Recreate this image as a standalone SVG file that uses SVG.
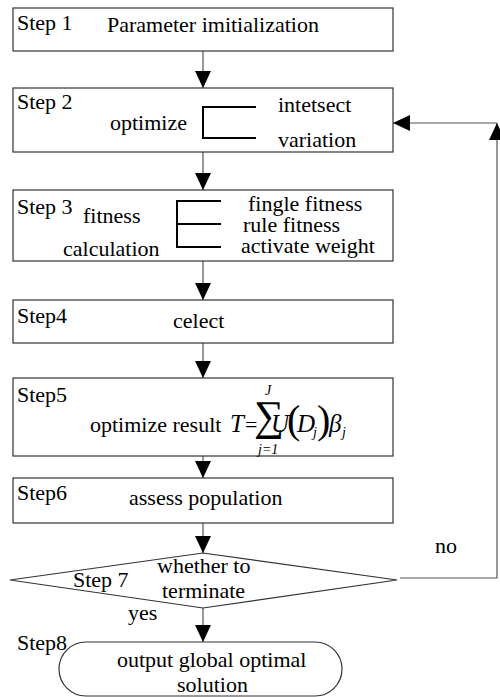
<svg xmlns="http://www.w3.org/2000/svg" width="500" height="697" viewBox="0 0 500 697">
<style>
text{font-family:"Liberation Serif","Times New Roman",serif;font-size:22px;fill:#000}
.box{fill:#fff;stroke:#333;stroke-width:1.2}
.br{fill:none;stroke:#000;stroke-width:2}
.ln{fill:none;stroke:#555;stroke-width:1.2}
.it{font-style:italic;font-size:25px}
.sm{font-size:14px;font-style:italic}
.big{font-size:42px}
.par{font-size:40px}
</style>
<defs>
<marker id="ah" viewBox="0 0 17 16" refX="17" refY="8" markerWidth="17" markerHeight="16" orient="auto" markerUnits="userSpaceOnUse">
<path d="M0,0 L17,8 L0,16 Z" fill="#000"/>
</marker>
</defs>
<rect width="500" height="697" fill="#fff"/>

<g id="connectors">
<line class="ln" x1="203" y1="51" x2="203" y2="88" marker-end="url(#ah)"/>
<line class="ln" x1="203" y1="152" x2="203" y2="190" marker-end="url(#ah)"/>
<line class="ln" x1="203" y1="261" x2="203" y2="300" marker-end="url(#ah)"/>
<line class="ln" x1="203" y1="343" x2="203" y2="378" marker-end="url(#ah)"/>
<line class="ln" x1="203" y1="456" x2="203" y2="478" marker-end="url(#ah)"/>
<line class="ln" x1="203" y1="523" x2="203" y2="553" marker-end="url(#ah)"/>
<line class="ln" x1="203" y1="608" x2="203" y2="642" marker-end="url(#ah)"/>
<polyline class="ln" points="400,578 497,578 497,123" marker-end="url(#ah)"/>
<line class="ln" x1="497" y1="123" x2="393" y2="123" marker-end="url(#ah)"/>
<text x="435" y="553">no</text>
<text x="128" y="620">yes</text>
</g>

<g id="step1">
<rect class="box" x="13" y="8" width="380" height="43"/>
<text x="17" y="30">Step 1</text>
<text x="107" y="32">Parameter imitialization</text>
</g>

<g id="step2">
<rect class="box" x="13" y="88" width="380" height="64"/>
<text x="17" y="109">Step 2</text>
<text x="110" y="130">optimize</text>
<polyline class="br" points="256,107 203,107 203,138 256,138"/>
<text x="278" y="112">intetsect</text>
<text x="278" y="147">variation</text>
</g>

<g id="step3">
<rect class="box" x="13" y="190" width="380" height="71"/>
<text x="17" y="214">Step 3</text>
<text x="83" y="223">fitness</text>
<text x="63" y="256">calculation</text>
<polyline class="br" points="221,201 177,201 177,247 221,247"/>
<line class="br" x1="177" y1="224" x2="221" y2="224"/>
<text x="248" y="211">fingle fitness</text>
<text x="243" y="232">rule fitness</text>
<text x="241" y="253">activate weight</text>
</g>

<g id="step4">
<rect class="box" x="13" y="300" width="380" height="43"/>
<text x="17" y="323">Step4</text>
<text x="173" y="328">celect</text>
</g>

<g id="step5">
<rect class="box" x="13" y="378" width="380" height="78"/>
<text x="17" y="402">Step5</text>
<text x="90" y="432">optimize result</text>
<text class="it" x="230" y="432">T</text>
<text x="245" y="432">=</text>
<text class="big" x="254" y="430">∑</text>
<text class="sm" x="265" y="395">J</text>
<text class="sm" x="258" y="454">j=1</text>
<text class="it" x="271" y="432">U</text>
<text class="par" x="287" y="433">(</text>
<text class="it" x="297" y="432">D</text>
<text class="sm" x="313" y="437">j</text>
<text class="par" x="317" y="433">)</text>
<text class="it" x="329" y="432">β</text>
<text class="sm" x="342" y="437">j</text>
</g>

<g id="step6">
<rect class="box" x="13" y="478" width="380" height="45"/>
<text x="17" y="500">Step6</text>
<text x="129" y="505">assess population</text>
</g>

<g id="step7">
<polygon class="box" points="203,553 397,580 203,608 10,580"/>
<text x="73" y="587">Step 7</text>
<text x="157" y="573">whether to</text>
<text x="162" y="598">terminate</text>
</g>

<g id="step8">
<rect class="box" x="59" y="642" width="283" height="54" rx="27" ry="27"/>
<text x="17" y="650">Step8</text>
<text x="117" y="667">output global optimal</text>
<text x="177" y="692">solution</text>
</g>
</svg>
